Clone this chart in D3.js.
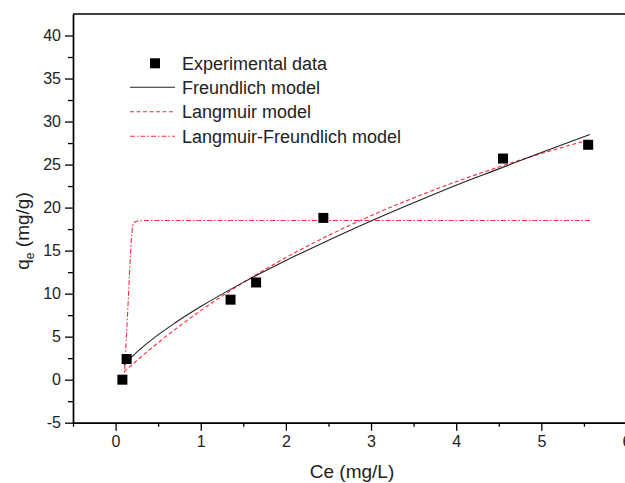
<!DOCTYPE html>
<html>
<head>
<meta charset="utf-8">
<script src="https://cdn.jsdelivr.net/npm/d3@7"></script>
<style>
  html, body { margin: 0; padding: 0; background: #fff; }
  svg { display: block; font-family: "Liberation Sans", Arial, sans-serif; }
</style>
</head>
<body>
<svg id="chart" width="625" height="483"></svg>
<script>
// ---- data ----
const expC = [0.08, 0.13, 1.35, 1.65, 2.44, 4.55, 5.55];
const expQ = [0.0, 2.4, 9.3, 11.3, 18.8, 25.7, 27.3];

const freundC = [0.1, 0.2, 0.4, 0.7, 1.0, 1.5, 2.0, 2.5, 3.0, 3.5, 4.0, 4.5, 5.0, 5.57];
const freundQ = [1.68, 2.73, 4.46, 6.61, 8.5, 11.31, 13.86, 16.2, 18.44, 20.56, 22.6, 24.5, 26.4, 28.5];

const langC = [0.1, 0.2, 0.4, 0.7, 1.0, 1.5, 2.0, 2.5, 3.0, 3.5, 4.0, 4.5, 5.0, 5.57];
const langQ = [0.91, 1.8, 3.49, 5.85, 8.03, 11.3, 14.19, 16.76, 19.06, 21.13, 23.01, 24.72, 26.28, 27.9];

const lfC = [0.1, 0.14, 0.19, 0.2, 0.22, 0.26, 0.35, 5.57];
const lfQ = [0.0, 7.5, 16.9, 17.8, 18.3, 18.45, 18.5, 18.5];

const xTicks = [0, 1, 2, 3, 4, 5, 6];
const xMinor = [-0.5, 0.5, 1.5, 2.5, 3.5, 4.5, 5.5];
const yTicks = [-5, 0, 5, 10, 15, 20, 25, 30, 35, 40];
const yMinor = [-2.5, 2.5, 7.5, 12.5, 17.5, 22.5, 27.5, 32.5, 37.5];

const legendLabels = ["Experimental data", "Freundlich model", "Langmuir model", "Langmuir-Freundlich model"];

// ---- layout ----
const svg = d3.select("#chart");
const L = 73, R = 626.5, T = 14, B = 422.7;
const x = d3.scaleLinear().domain([-0.5, 6]).range([L, R]);
const y = d3.scaleLinear().domain([-5, 42.5]).range([B, T]);
const red = "#ff2a3c";

// frame (top and right)
svg.append("line").attr("x1", L).attr("x2", R).attr("y1", T).attr("y2", T)
  .attr("stroke", "#000").attr("stroke-width", 1.4);
svg.append("line").attr("x1", R).attr("x2", R).attr("y1", T).attr("y2", B)
  .attr("stroke", "#000").attr("stroke-width", 1.4);

// axes
const fmt = d => d3.format("d")(d).replace("−", "-");
const gx = svg.append("g").attr("transform", `translate(0,${B})`)
  .call(d3.axisBottom(x).tickValues(xTicks).tickSize(8).tickSizeOuter(0).tickPadding(5).tickFormat(fmt));
const gxm = svg.append("g").attr("transform", `translate(0,${B})`)
  .call(d3.axisBottom(x).tickValues(xMinor).tickSize(4).tickSizeOuter(0).tickFormat(""));
const gy = svg.append("g").attr("transform", `translate(${L},0)`)
  .call(d3.axisLeft(y).tickValues(yTicks).tickSize(8).tickSizeOuter(0).tickPadding(4).tickFormat(fmt));
const gym = svg.append("g").attr("transform", `translate(${L},0)`)
  .call(d3.axisLeft(y).tickValues(yMinor).tickSize(5).tickSizeOuter(0).tickFormat(""));

[gx, gxm, gy, gym].forEach(g => {
  g.select(".domain").attr("stroke", "#000").attr("stroke-width", 1.4);
  g.selectAll(".tick line").attr("stroke", "#000").attr("stroke-width", 1.3);
  g.selectAll("text").attr("fill", "#222").style("font-size", "16px")
    .style("font-family", "'Liberation Sans', Arial, sans-serif");
});

// axis titles
svg.append("text").attr("x", 352).attr("y", 478).attr("text-anchor", "middle")
  .style("font-size", "19px").attr("fill", "#222").text("Ce (mg/L)");

const yt = svg.append("text").attr("transform", "translate(29,231) rotate(-90)")
  .attr("text-anchor", "middle").style("font-size", "19px").attr("fill", "#222");
yt.append("tspan").text("q");
yt.append("tspan").attr("dy", 5).style("font-size", "12px").text("e");
yt.append("tspan").attr("dy", -5).text(" (mg/g)");

// curves
const line = d3.line().x(d => x(d[0])).y(d => y(d[1])).curve(d3.curveMonotoneX);
const plot = svg.append("g");
plot.append("path").datum(d3.zip(lfC, lfQ)).attr("d", line)
  .attr("fill", "none").attr("stroke", red).attr("stroke-width", 1.1)
  .attr("stroke-dasharray", "5,2,1.5,2");
plot.append("path").datum(d3.zip(langC, langQ)).attr("d", line)
  .attr("fill", "none").attr("stroke", red).attr("stroke-width", 1.1)
  .attr("stroke-dasharray", "4,2.5");
plot.append("path").datum(d3.zip(freundC, freundQ)).attr("d", line)
  .attr("fill", "none").attr("stroke", "#222").attr("stroke-width", 1.1);

// data points
const sq = 10;
plot.selectAll("rect.pt").data(d3.zip(expC, expQ)).join("rect").attr("class", "pt")
  .attr("x", d => x(d[0]) - sq / 2).attr("y", d => y(d[1]) - sq / 2)
  .attr("width", sq).attr("height", sq).attr("fill", "#000");

// legend
const lg = svg.append("g");
const rowY = [63.3, 87.3, 111.8, 136.3];
lg.append("rect").attr("x", 155 - sq / 2).attr("y", rowY[0] - sq / 2).attr("width", sq).attr("height", sq).attr("fill", "#000");
lg.append("line").attr("x1", 130).attr("x2", 175).attr("y1", rowY[1]).attr("y2", rowY[1])
  .attr("stroke", "#222").attr("stroke-width", 1.1);
lg.append("line").attr("x1", 130).attr("x2", 175).attr("y1", rowY[2]).attr("y2", rowY[2])
  .attr("stroke", red).attr("stroke-width", 1.1).attr("stroke-dasharray", "4,2.5");
lg.append("line").attr("x1", 130).attr("x2", 175).attr("y1", rowY[3]).attr("y2", rowY[3])
  .attr("stroke", red).attr("stroke-width", 1.1).attr("stroke-dasharray", "5,2,1.5,2");
lg.selectAll("text.lab").data(legendLabels).join("text").attr("class", "lab")
  .attr("x", 182).attr("y", (d, i) => rowY[i] + 6.5)
  .style("font-size", "18px").attr("fill", "#222").text(d => d);
</script>
</body>
</html>
